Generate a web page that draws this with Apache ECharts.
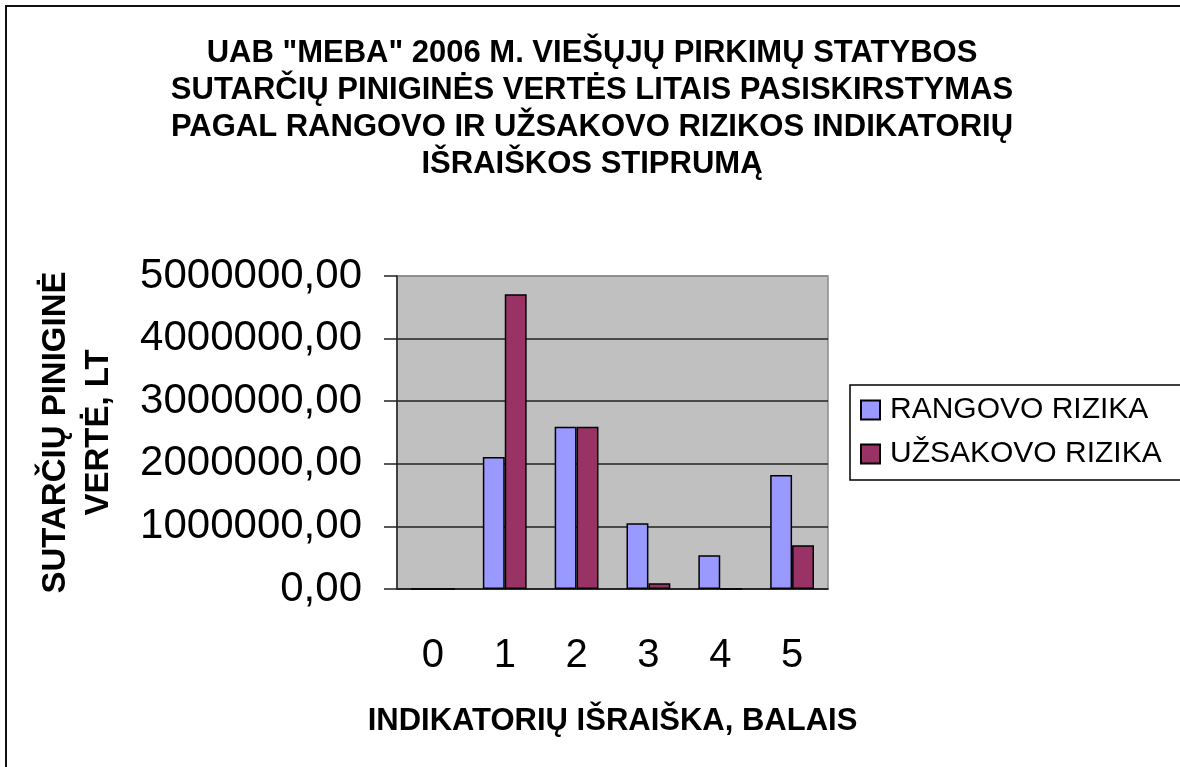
<!DOCTYPE html>
<html>
<head>
<meta charset="utf-8">
<title>UAB MEBA 2006</title>
<script src="https://cdn.jsdelivr.net/npm/echarts@6/dist/echarts.min.js"></script>
<style>
  html, body { margin: 0; padding: 0; background: #fff; }
  #chart { width: 1180px; height: 767px; }
</style>
</head>
<body>
<div id="chart"></div>
<script>
  // balai (indikatorių išraiška)
  var categories = ['0', '1', '2', '3', '4', '5'];
  // sutarčių vertė, Lt
  var rangovoRizika = [0, 2110000, 2590000, 1050000, 540000, 1820000];
  var uzsakovoRizika = [0, 4710000, 2590000, 90000, 0, 700000];
  var yTicks = { min: 0, max: 5000000, interval: 1000000 };

  var font = "'Liberation Sans', Arial, sans-serif";

  var chart = echarts.init(document.getElementById('chart'));
  var option = {
    backgroundColor: '#fff',
    animation: false,
    title: {
      text: 'UAB "MEBA" 2006 M. VIEŠŲJŲ PIRKIMŲ STATYBOS\nSUTARČIŲ PINIGINĖS VERTĖS LITAIS PASISKIRSTYMAS\nPAGAL RANGOVO IR UŽSAKOVO RIZIKOS INDIKATORIŲ\nIŠRAIŠKOS STIPRUMĄ',
      left: 587,
      top: 30,
      textAlign: 'center',
      textStyle: {
        fontFamily: font,
        fontWeight: 'bold',
        fontSize: 31,
        lineHeight: 37,
        color: '#000'
      }
    },
    legend: {
      orient: 'vertical',
      left: 850,
      top: 385,
      padding: [10, 22, 11, 10],
      borderColor: '#000',
      borderWidth: 1.5,
      itemWidth: 19,
      itemHeight: 19,
      itemGap: 14,
      icon: 'rect',
      textStyle: {
        fontFamily: font,
        fontSize: 30,
        color: '#000',
        padding: [0, 0, 0, 5]
      },
      data: ['RANGOVO RIZIKA', 'UŽSAKOVO RIZIKA']
    },
    grid: {
      left: 397,
      right: 352,
      top: 276,
      bottom: 178,
      show: true,
      backgroundColor: '#c0c0c0',
      borderColor: '#8a8a8a',
      borderWidth: 1.5
    },
    xAxis: {
      type: 'category',
      data: categories,
      name: 'INDIKATORIŲ IŠRAIŠKA, BALAIS',
      nameLocation: 'middle',
      nameGap: 117,
      nameTextStyle: {
        fontFamily: font,
        fontWeight: 'bold',
        fontSize: 31,
        color: '#000'
      },
      axisLine: { lineStyle: { color: '#222', width: 1.5 } },
      axisTick: { length: 14, lineStyle: { color: '#222', width: 1.5 } },
      axisLabel: {
        margin: 47,
        fontFamily: font,
        fontSize: 40,
        color: '#000'
      }
    },
    yAxis: {
      type: 'value',
      min: yTicks.min,
      max: yTicks.max,
      interval: yTicks.interval,
      name: 'SUTARČIŲ PINIGINĖ\nVERTĖ, LT',
      nameLocation: 'middle',
      nameRotate: 90,
      nameGap: 277,
      nameTextStyle: {
        fontFamily: font,
        fontWeight: 'bold',
        fontSize: 33,
        lineHeight: 43,
        color: '#000'
      },
      axisLine: { show: true, lineStyle: { color: '#222', width: 1.5 } },
      axisTick: { show: true, length: 13, lineStyle: { color: '#222', width: 1.5 } },
      axisLabel: {
        margin: 35,
        fontFamily: font,
        fontSize: 42,
        color: '#000',
        padding: [8, 0, 0, 0],
        formatter: function (v) {
          return v.toFixed(2).replace('.', ',');
        }
      },
      splitLine: {
        lineStyle: {
          color: ['#222', '#222', '#222', '#222', '#222', '#8a8a8a'],
          width: 1.5
        }
      }
    },
    series: [
      {
        name: 'RANGOVO RIZIKA',
        type: 'bar',
        data: rangovoRizika,
        barGap: '0%',
        barCategoryGap: '39%',
        itemStyle: { color: '#9999ff', borderColor: '#000', borderWidth: 1.5 }
      },
      {
        name: 'UŽSAKOVO RIZIKA',
        type: 'bar',
        data: uzsakovoRizika,
        barGap: '0%',
        barCategoryGap: '39%',
        itemStyle: { color: '#993366', borderColor: '#000', borderWidth: 1.5 }
      }
    ],
    graphic: [
      {
        type: 'rect',
        shape: { x: 6, y: 6, width: 1220, height: 820 },
        style: { fill: 'none', stroke: '#111', lineWidth: 2 },
        silent: true
      }
    ]
  };
  chart.setOption(option);
</script>
</body>
</html>
